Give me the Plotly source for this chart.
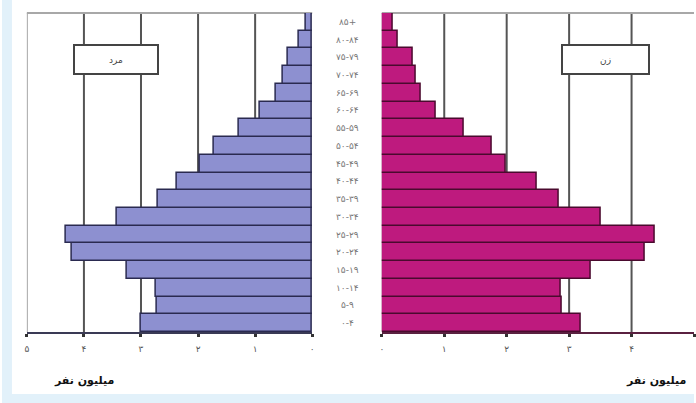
import plotly.graph_objects as go

# Age groups, bottom to top
age_groups = ["۰-۴", "۵-۹", "۱۰-۱۴", "۱۵-۱۹", "۲۰-۲۴", "۲۵-۲۹", "۳۰-۳۴", "۳۵-۳۹",
              "۴۰-۴۴", "۴۵-۴۹", "۵۰-۵۴", "۵۵-۵۹", "۶۰-۶۴", "۶۵-۶۹", "۷۰-۷۴",
              "۷۵-۷۹", "۸۰-۸۴", "۸۵+"]
# millions
men = [3.01, 2.72, 2.74, 3.24, 4.22, 4.32, 3.43, 2.70, 2.37, 1.97, 1.72, 1.29,
       0.92, 0.63, 0.52, 0.42, 0.24, 0.12]
women = [3.19, 2.89, 2.87, 3.35, 4.21, 4.37, 3.51, 2.84, 2.48, 1.98, 1.76, 1.32,
         0.87, 0.63, 0.55, 0.49, 0.25, 0.17]
tick_vals = [0, 1, 2, 3, 4, 5]
tick_text = ["۰", "۱", "۲", "۳", "۴", "۵"]
men_label = "مرد"
women_label = "زن"
axis_title = "میلیون نفر"

W, H = 696, 403
FONT = "DejaVu Sans"

fig = go.Figure()
fig.add_trace(go.Bar(y=age_groups, x=men, orientation="h", xaxis="x", yaxis="y",
                     marker=dict(color="#8d90d0", line=dict(color="#2a2a50", width=1.5)),
                     showlegend=False))
fig.add_trace(go.Bar(y=age_groups, x=women, orientation="h", xaxis="x2", yaxis="y2",
                     marker=dict(color="#be1a7e", line=dict(color="#4a0a2e", width=1.5)),
                     showlegend=False))

ydom = [1 - 332 / H, 1 - 13 / H]
left_dom = [25 / W, 312 / W]
right_dom = [382 / W, 1.0]

axis_common = dict(tickvals=tick_vals, ticktext=tick_text, showgrid=False, zeroline=False,
                   ticks="outside", ticklen=3, tickwidth=3, tickcolor="#333",
                   showline=True, linewidth=2, ticklabelstandoff=4,
                   tickfont=dict(family=FONT, size=9, color="#555"))
fig.update_layout(
    width=W, height=H,
    margin=dict(l=0, r=0, t=0, b=0),
    paper_bgcolor="white", plot_bgcolor="white",
    bargap=0,
    font=dict(family=FONT),
    xaxis=dict(domain=left_dom, range=[5, 0], anchor="y", linecolor="#3a3a55", **axis_common),
    xaxis2=dict(domain=right_dom, range=[0, 5], anchor="y2", linecolor="#5a2040", **axis_common),
    yaxis=dict(domain=ydom, categoryorder="array", categoryarray=age_groups,
               range=[-0.5, len(age_groups) - 0.5], showticklabels=False, showgrid=False,
               zeroline=False, anchor="x"),
    yaxis2=dict(domain=ydom, matches="y", showticklabels=False, showgrid=False,
                zeroline=False, anchor="x2"),
)

shapes = []
# light blue page strips
shapes.append(dict(type="rect", xref="paper", yref="paper", x0=0, x1=10 / W, y0=0, y1=1,
                   fillcolor="#e2f1fa", line=dict(width=0), layer="below"))
shapes.append(dict(type="rect", xref="paper", yref="paper", x0=0, x1=1, y0=0, y1=9 / H,
                   fillcolor="#e2f1fa", line=dict(width=0), layer="below"))
# gridlines
for v in tick_vals[1:-1]:
    for xr, yr in (("x", "y domain"), ("x2", "y2 domain")):
        shapes.append(dict(type="line", xref=xr, yref=yr, x0=v, x1=v, y0=0, y1=1,
                           line=dict(color="#555555", width=2), layer="below"))
# frame lines
shapes.append(dict(type="line", xref="x", yref="y domain", x0=5, x1=5, y0=0, y1=1,
                   line=dict(color="#a8a8a8", width=2), layer="below"))
shapes.append(dict(type="line", xref="x domain", yref="y domain", x0=0, x1=1, y0=1, y1=1,
                   line=dict(color="#a8a8a8", width=2), layer="below"))
shapes.append(dict(type="line", xref="x2 domain", yref="y2 domain", x0=0, x1=1, y0=1, y1=1,
                   line=dict(color="#a8a8a8", width=2), layer="below"))
fig.update_layout(shapes=shapes)

ann = []
for i, g in enumerate(age_groups):
    ann.append(dict(x=347 / W, xref="paper", y=i, yref="y", text=g, showarrow=False,
                    xanchor="center", font=dict(family=FONT, size=9, color="#777")))
ann.append(dict(x=115 / W, y=1 - 60 / H, xref="paper", yref="paper", text=men_label,
                xanchor="center", yanchor="middle",
                showarrow=False, bgcolor="white", bordercolor="#444", borderwidth=2,
                width=80, height=25, font=dict(family=FONT, size=9, color="#444")))
ann.append(dict(x=607 / W, y=1 - 60 / H, xref="paper", yref="paper", text=women_label,
                xanchor="center", yanchor="middle",
                showarrow=False, bgcolor="white", bordercolor="#444", borderwidth=2,
                width=83, height=25, font=dict(family=FONT, size=9, color="#444")))
ann.append(dict(x=82 / W, y=1 - 380 / H, xref="paper", yref="paper", text="<b>" + axis_title + "</b>",
                xanchor="center", yanchor="middle",
                showarrow=False, font=dict(family=FONT, size=11, color="#111")))
ann.append(dict(x=658 / W, y=1 - 380 / H, xref="paper", yref="paper", text="<b>" + axis_title + "</b>",
                xanchor="center", yanchor="middle",
                showarrow=False, font=dict(family=FONT, size=11, color="#111")))
fig.update_layout(annotations=ann)

fig.write_html("out.html", post_script="document.body.style.margin='0';",
               config={"displayModeBar": False})
